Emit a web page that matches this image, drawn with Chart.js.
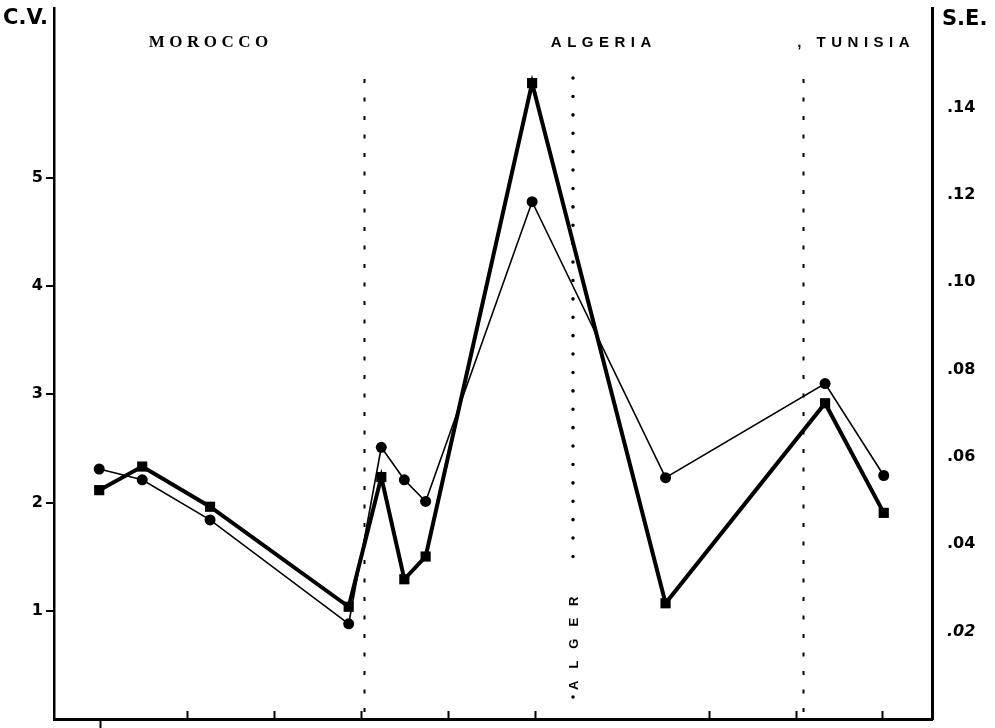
<!DOCTYPE html>
<html><head><meta charset="utf-8">
<script src="https://cdn.jsdelivr.net/npm/chart.js@4.4.0/dist/chart.umd.min.js"></script>
<style>html,body{margin:0;padding:0;background:#fff;}canvas{display:block;}</style>
</head><body>
<canvas id="c" width="995" height="728"></canvas>
<script>
// Longitude (degrees E) of each sampling site
const longitudes = [-8.02, -7.03, -5.47, -2.28, -1.53, -1.00, -0.51, 1.94, 5.01, 8.68, 10.03];
// Coefficient of variation (left axis, circles, thin line)
const cvValues = [2.31, 2.21, 1.84, 0.88, 2.51, 2.21, 2.01, 4.78, 2.23, 3.10, 2.25];
// Standard error (right axis, squares, thick line)
const seValues = [0.0524, 0.0578, 0.0486, 0.0257, 0.0554, 0.0320, 0.0372, 0.1456, 0.0265, 0.0723, 0.0472];
const cvTickValues = [1, 2, 3, 4, 5];
const seTickValues = [0.02, 0.04, 0.06, 0.08, 0.10, 0.12, 0.14];
const lonTicks = [-8, -6, -4, -2, 0, 2, 6, 8, 10];
const countryNames = ['MOROCCO', 'ALGERIA', ', TUNISIA'];
const countryLon = [-6.88, 2.37, 8.04];
const borderLon = [-1.93, 8.17];
const algerLon = 2.88;
const algerName = 'ALGER';

function spacedText(ctx, text, x, y, spacing) {
  for (const ch of text) {
    ctx.fillText(ch, x, y);
    x += ctx.measureText(ch).width + spacing;
  }
}
function noPad(s) { s.paddingTop = 0; s.paddingBottom = 0; s.paddingLeft = 0; s.paddingRight = 0; }

const overlay = {
  id: 'overlay',
  beforeDatasetsDraw(chart) {
    const {ctx, chartArea, scales} = chart;
    const xs = scales.x;
    ctx.save();
    ctx.strokeStyle = '#000';
    ctx.lineWidth = 2;
    ctx.setLineDash([4, 14.5]);
    borderLon.forEach(v => {
      const px = Math.round(xs.getPixelForValue(v)) + 0.5;
      ctx.beginPath(); ctx.moveTo(px, 79); ctx.lineTo(px, chartArea.bottom); ctx.stroke();
    });
    ctx.lineWidth = 3.5; ctx.lineCap = 'round';
    ctx.setLineDash([0.1, 18.3]);
    const ax = xs.getPixelForValue(algerLon);
    ctx.beginPath(); ctx.moveTo(ax, 78); ctx.lineTo(ax, 570); ctx.stroke();
    ctx.beginPath(); ctx.moveTo(ax, 697); ctx.lineTo(ax, 697.2); ctx.stroke();
    ctx.restore();
  },
  afterDraw(chart) {
    const {ctx, chartArea, scales} = chart;
    const xs = scales.x;
    ctx.save();
    ctx.strokeStyle = '#000'; ctx.fillStyle = '#000';
    ctx.lineWidth = 2;
    lonTicks.forEach((v, i) => {
      const px = Math.round(xs.getPixelForValue(v)) + 0.5;
      ctx.beginPath();
      if (i === 0) { ctx.moveTo(px, chartArea.bottom); ctx.lineTo(px, chartArea.bottom + 9); }
      else { ctx.moveTo(px, chartArea.bottom); ctx.lineTo(px, chartArea.bottom - 8); }
      ctx.stroke();
    });
    ctx.textBaseline = 'alphabetic';
    ctx.font = 'bold 21px "DejaVu Sans"';
    ctx.textAlign = 'left';
    ctx.fillText('C.V.', 3, 24);
    ctx.fillText('S.E.', 942, 25);
    ctx.font = 'bold 17px "Liberation Serif"';
    spacedText(ctx, countryNames[0], xs.getPixelForValue(countryLon[0]), 47, 4.5);
    ctx.font = 'bold 15px "Liberation Sans"';
    spacedText(ctx, countryNames[1], xs.getPixelForValue(countryLon[1]), 47, 5.5);
    spacedText(ctx, countryNames[2], xs.getPixelForValue(countryLon[2]), 47, 5.5);
    ctx.save();
    ctx.translate(xs.getPixelForValue(algerLon) + 1, 690);
    ctx.rotate(-Math.PI / 2);
    ctx.font = 'bold 13px "Liberation Sans"';
    ctx.textBaseline = 'middle';
    spacedText(ctx, algerName, 0, 0, 12);
    ctx.restore();
    ctx.restore();
  }
};

const cvData = longitudes.map((x, i) => ({x, y: cvValues[i]}));
const seData = longitudes.map((x, i) => ({x, y: seValues[i]}));

new Chart(document.getElementById('c'), {
  type: 'line',
  data: {
    datasets: [
      {label: 'C.V.', data: cvData, yAxisID: 'y', borderColor: '#000', backgroundColor: '#000',
       borderWidth: 1.6, pointStyle: 'circle', pointRadius: 5.5, pointBorderWidth: 0, tension: 0},
      {label: 'S.E.', data: seData, yAxisID: 'y2', borderColor: '#000', backgroundColor: '#000',
       borderWidth: 4, pointStyle: 'rect', pointRadius: 7.2, pointBorderWidth: 0, tension: 0}
    ]
  },
  options: {
    responsive: false, animation: false, devicePixelRatio: 1,
    layout: {autoPadding: false, padding: {top: 8, left: 0, right: 0, bottom: 0}},
    plugins: {legend: {display: false}, tooltip: {enabled: false}},
    scales: {
      x: {type: 'linear', min: -9.06, max: 11.14,
          ticks: {display: false},
          grid: {display: true, drawOnChartArea: false, drawTicks: false},
          border: {display: true, color: '#000', width: 3},
          afterFit(s) { s.height = 9; noPad(s); }},
      y: {type: 'linear', position: 'left', min: 0, max: 6.57,
          ticks: {stepSize: 1, color: '#000', padding: 3,
                  font: {family: 'DejaVu Sans', weight: 'bold', size: 16},
                  callback: v => cvTickValues.includes(Math.round(v * 1000) / 1000) ? String(v) : ''},
          grid: {drawOnChartArea: false, drawTicks: true, tickLength: 8, lineWidth: 2,
                 color: c => (c.tick && cvTickValues.includes(c.tick.value)) ? '#000' : 'rgba(0,0,0,0)'},
          border: {display: true, color: '#000', width: 2.5},
          afterFit(s) { s.width = 54; noPad(s); }},
      y2: {type: 'linear', position: 'right', min: 0, max: 0.1628,
          ticks: {stepSize: 0.02, color: '#000', padding: 15,
                  font: c => ({family: 'DejaVu Sans', weight: 'bold', size: 16,
                               style: (c.tick && Math.abs(c.tick.value - 0.02) < 1e-6) ? 'italic' : 'normal'}),
                  callback: v => {
                    const r = Math.round(v * 100) / 100;
                    if (Math.abs(v - r) > 1e-6) return '';
                    return seTickValues.some(t => Math.abs(t - r) < 1e-6) ? '.' + r.toFixed(2).slice(2) : '';
                  }},
          grid: {drawOnChartArea: false, drawTicks: false},
          border: {display: true, color: '#000', width: 3},
          afterFit(s) { s.width = 63; noPad(s); }}
    }
  },
  plugins: [overlay]
});
</script>
</body></html>
